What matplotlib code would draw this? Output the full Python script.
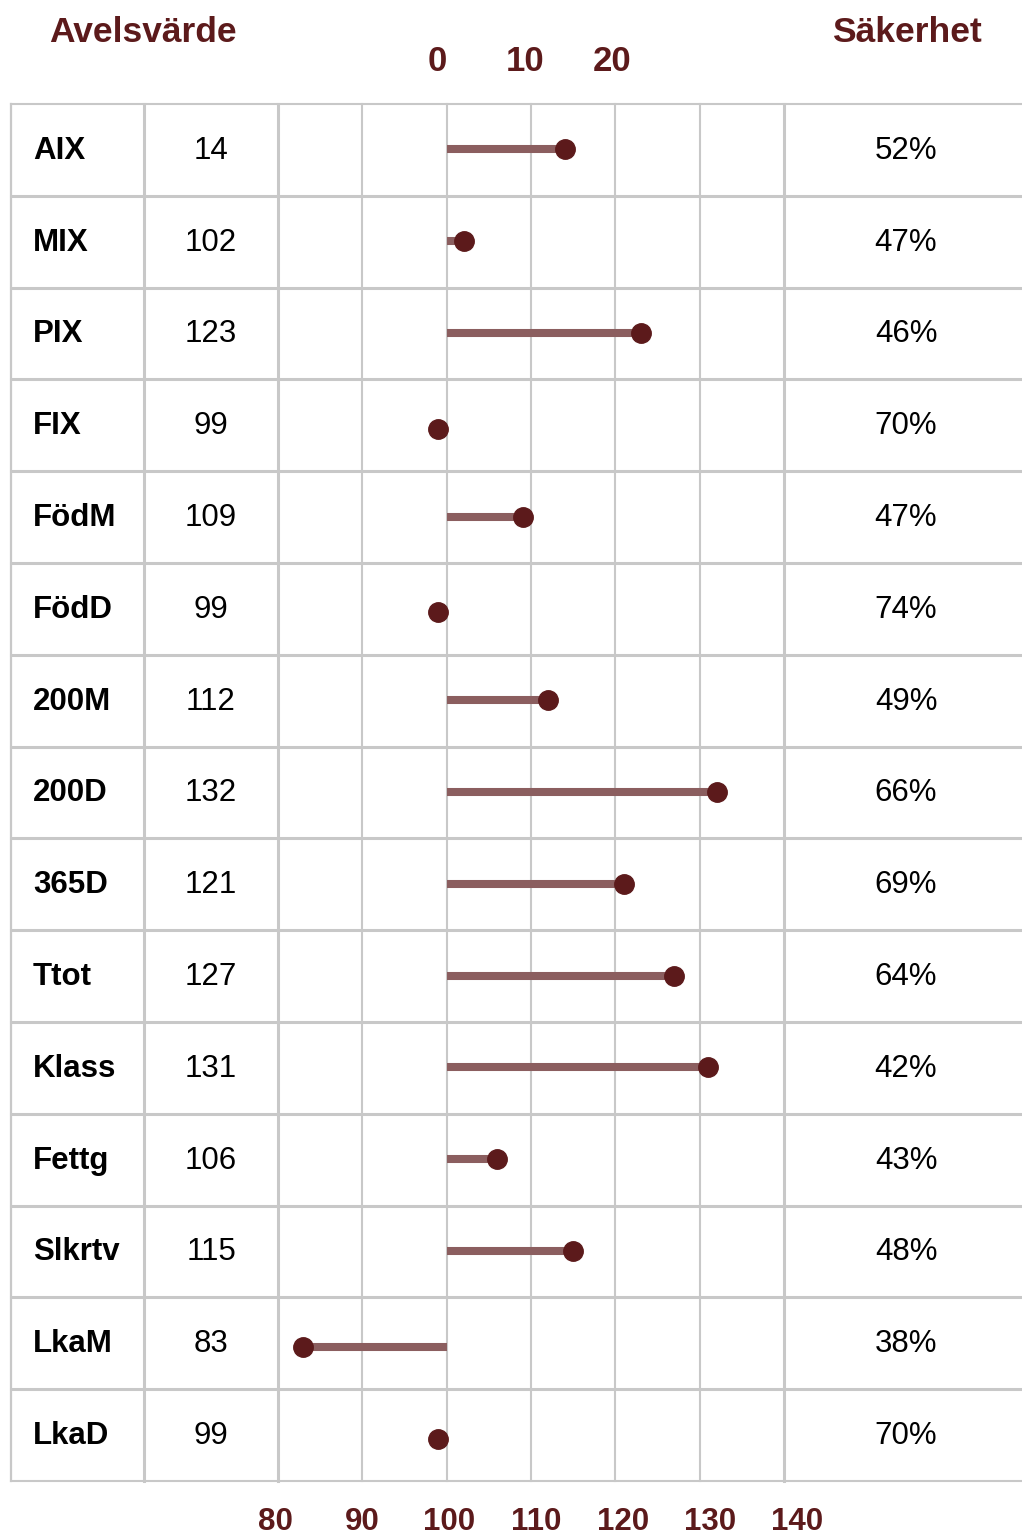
import matplotlib.pyplot as plt

plt.rcParams['font.family'] = ['Liberation Sans', 'DejaVu Sans']

# Data
names = ['AIX', 'MIX', 'PIX', 'FIX', 'FödM', 'FödD', '200M', '200D', '365D',
         'Ttot', 'Klass', 'Fettg', 'Slkrtv', 'LkaM', 'LkaD']
values = [14, 102, 123, 99, 109, 99, 112, 132, 121, 127, 131, 106, 115, 83, 99]
safety = [52, 47, 46, 70, 47, 74, 49, 66, 69, 64, 42, 43, 48, 38, 70]
bottom_ticks = [80, 90, 100, 110, 120, 130, 140]
top_ticks = [0, 10, 20]   # AIX scale, zero at 100

dark = '#5c1a1b'
stem = '#8b5e5f'
grid = '#c8c8c8'

W, H = 1022, 1537
ppu = (784 - 278) / 60.0          # pixels per value unit
x0 = 80 - 278 / ppu
x1 = x0 + W / ppu
rowh = (1481 - 104) / 15.0
ytop = -0.5 - 104 / rowh
ybot = -0.5 + (H - 104) / rowh

fig = plt.figure(figsize=(W / 100, H / 100), dpi=100)
ax = fig.add_axes([0, 0, 1, 1])
ax.set_xlim(x0, x1)
ax.set_ylim(ybot, ytop)
ax.axis('off')

n = len(names)
left = x0 + 11 / ppu
col1 = x0 + 144 / ppu
col_val = (col1 + 80) / 2
col_name = x0 + 33 / ppu
pct_x = (140 + x1) / 2 + 3 / ppu

# table lines
for i in range(n + 1):
    lw = 1.5 if i in (0, n) else 2.2
    ax.plot([left, x1], [i - 0.5, i - 0.5], color=grid, lw=lw, zorder=1)
for x, lw in [(left, 1.6), (col1, 2.2), (80, 2.2), (140, 2.2)]:
    ax.plot([x, x], [-0.5, n - 0.5], color=grid, lw=lw, zorder=1)
for t in bottom_ticks[1:-1]:
    ax.plot([t, t], [-0.5, n - 0.5], color=grid, lw=1.5, zorder=1)

# stems and dots (values below 100 sit a little lower in the original)
for i, (name, v) in enumerate(zip(names, values)):
    pos = 100 + v if name == 'AIX' else v
    y = i - 0.006 + (4 / rowh if pos < 100 else 0)
    ax.plot([100, pos], [y, y], color=stem, lw=5.8, solid_capstyle='butt', zorder=2)
    ax.plot(pos, y, 'o', color=dark, ms=14, zorder=3)
    ax.text(col_name, i + 0.01, name, fontsize=22.5, fontweight='bold',
            ha='left', va='center', color='black')
    ax.text(col_val, i + 0.01, str(v), fontsize=22.5, ha='center', va='center',
            color='black')
    ax.text(pct_x, i + 0.01, f'{safety[i]}%', fontsize=22.5, ha='center',
            va='center', color='black')

# headers
ax.text(x0 + 143 / ppu, ytop + 33 / rowh, 'Avelsvärde', fontsize=25.5,
        fontweight='bold', color=dark, ha='center', va='center')
ax.text(x0 + 907 / ppu, ytop + 33 / rowh, 'Säkerhet', fontsize=25.5,
        fontweight='bold', color=dark, ha='center', va='center')

# tick labels are spread slightly wider than the grid in the original
spread = 87 / 10 / ppu
for t in top_ticks:
    ax.text(100 - 9 / ppu + t * spread, ytop + 62 / rowh, str(t), fontsize=25,
            fontweight='bold', color=dark, ha='center', va='center')

for t in bottom_ticks:
    ax.text(80 - 3 / ppu + (t - 80) * spread, n - 0.5 + 41 / rowh, str(t),
            fontsize=22.5, fontweight='bold', color=dark, ha='center', va='center')

fig.savefig('out.png', dpi=100)
